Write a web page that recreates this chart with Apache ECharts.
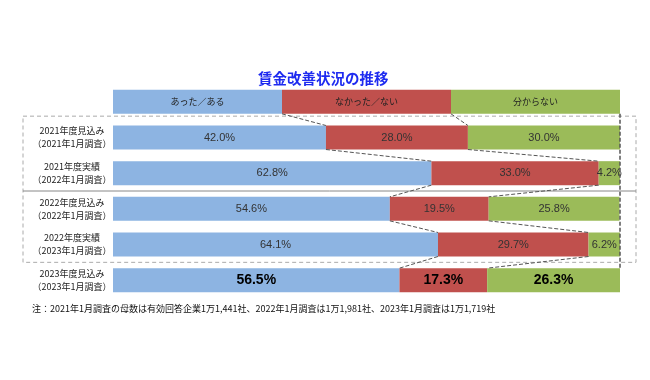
<!DOCTYPE html>
<html>
<head>
<meta charset="utf-8">
<script src="https://cdn.jsdelivr.net/npm/echarts@6/dist/echarts.min.js"></script>
<style>html,body{margin:0;padding:0;background:#fff;}#c{width:650px;height:380px;}</style>
</head>
<body>
<div id="c"></div>
<script>
const titleText = '賃金改善状況の推移';
const seriesNames = ['あった／ある', 'なかった／ない', '分からない'];
const categories = [
  '',
  '2021年度見込み\n（2021年1月調査）',
  '2021年度実績\n（2022年1月調査）',
  '2022年度見込み\n（2022年1月調査）',
  '2022年度実績\n（2023年1月調査）',
  '2023年度見込み\n（2023年1月調査）'
];
// first entry is the header (legend) row, split in equal thirds
const yesValues = [100 / 3, 42.0, 62.8, 54.6, 64.1, 56.5];
const noValues = [100 / 3, 28.0, 33.0, 19.5, 29.7, 17.3];
const unknownValues = [100 / 3, 30.0, 4.2, 25.8, 6.2, 26.3];
const noteText = '注：2021年1月調査の母数は有効回答企業1万1,441社、2022年1月調査は1万1,981社、2023年1月調査は1万1,719社';

const colors = ['#8DB4E2', '#C0504D', '#9BBB59'];
const FONT = "'Liberation Sans', 'Noto Sans CJK JP', sans-serif";
const JFONT = "'Noto Sans CJK JP', sans-serif";
const BAR_W = 24;

function buildData(vals, sIdx) {
  return vals.map((v, i) => {
    const item = { value: v };
    if (i === 0) {
      item.label = { formatter: seriesNames[sIdx], fontFamily: JFONT, fontSize: 9, color: '#222' };
    } else if (i === vals.length - 1) {
      item.label = { fontSize: 14, fontWeight: 'bold', color: '#000' };
    }
    return item;
  });
}

const chart = echarts.init(document.getElementById('c'));
const allVals = [yesValues, noValues, unknownValues];
chart.setOption({
  animation: false,
  title: {
    text: titleText, left: 253, top: 66,
    textStyle: { color: '#1E2BF0', fontSize: 14.5, fontWeight: 'bold', fontFamily: JFONT }
  },
  grid: { left: 113, right: 30, top: 84, bottom: 82 },
  xAxis: { type: 'value', min: 0, max: 100, show: false },
  yAxis: {
    type: 'category', data: categories, inverse: true,
    axisLine: { show: false }, axisTick: { show: false },
    axisLabel: { align: 'center', margin: 41, fontSize: 9, lineHeight: 13, color: '#222', fontFamily: JFONT }
  },
  series: allVals.map((vals, s) => ({
    name: seriesNames[s], type: 'bar', stack: 'total', barWidth: BAR_W,
    itemStyle: { color: colors[s] },
    label: {
      show: true, position: 'inside', color: '#333', fontSize: 11, fontFamily: FONT,
      formatter: p => p.value.toFixed(1) + '%'
    },
    data: buildData(vals, s)
  }))
});

const px = v => chart.convertToPixel({ gridIndex: 0 }, [v, 0])[0];
const yc = i => chart.convertToPixel({ gridIndex: 0 }, [0, i])[1];
const half = BAR_W / 2;
const g = [];
for (let i = 0; i < categories.length - 1; i++) {
  const b1a = yesValues[i], b1b = yesValues[i + 1];
  const b2a = yesValues[i] + noValues[i], b2b = yesValues[i + 1] + noValues[i + 1];
  [[b1a, b1b], [b2a, b2b]].forEach(([a, b]) => {
    g.push({ type: 'line', silent: true, z: 10,
      shape: { x1: px(a), y1: yc(i) + half, x2: px(b), y2: yc(i + 1) - half },
      style: { stroke: '#555', lineWidth: 1, lineDash: [4, 2] } });
  });
}
const boxTop = (yc(0) + yc(1)) / 2 - 3.5;
const boxBottom = (yc(4) + yc(5)) / 2;
const sep = (yc(2) + yc(3)) / 2;
g.push({ type: 'rect', silent: true, z: 5,
  shape: { x: 23, y: boxTop, width: 613, height: boxBottom - boxTop },
  style: { fill: 'none', stroke: '#aaa', lineWidth: 1, lineDash: [4, 3] } });
g.push({ type: 'line', silent: true, z: 5,
  shape: { x1: 23, y1: sep, x2: 636, y2: sep },
  style: { stroke: '#888', lineWidth: 1 } });
g.push({ type: 'line', silent: true, z: 10,
  shape: { x1: px(100), y1: yc(0) + half, x2: px(100), y2: yc(5) - half },
  style: { stroke: '#555', lineWidth: 1.5, lineDash: [4, 2] } });
g.push({ type: 'text', left: 32, top: 304, z: 10,
  style: { text: noteText, fontSize: 9, fill: '#111', fontFamily: JFONT } });
chart.setOption({ graphic: g });
</script>
</body>
</html>
